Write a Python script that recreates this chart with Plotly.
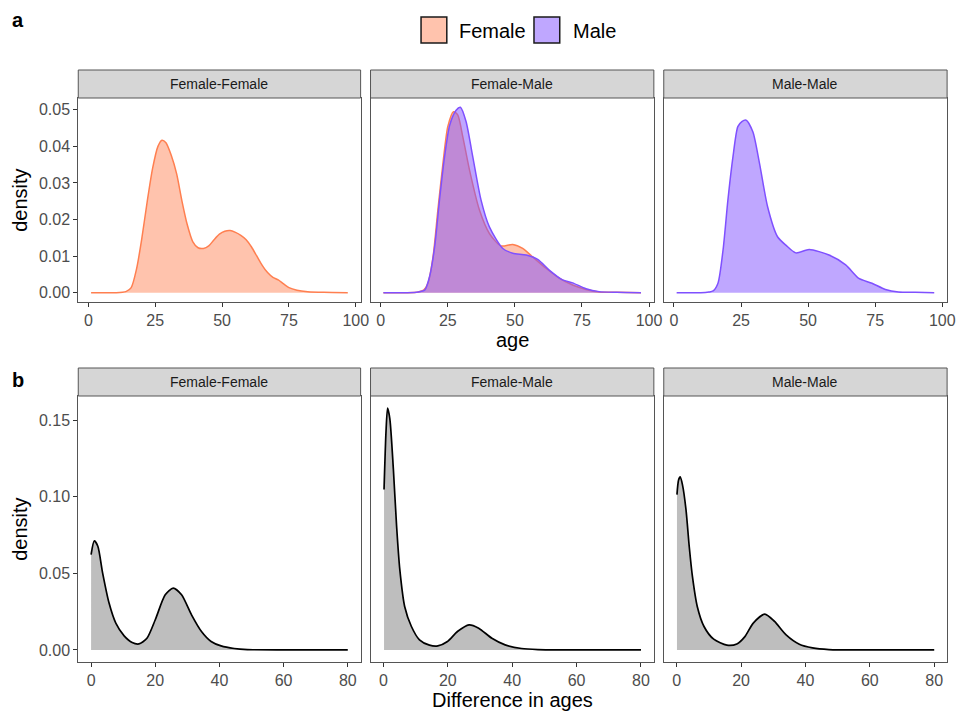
import plotly.graph_objects as go

# ---------------- data ----------------
panels = ["Female-Female", "Female-Male", "Male-Male"]
sexes = ["Female", "Male"]

# a) age densities
ff_age = [1, 10, 14, 16, 18, 20, 22, 24, 26, 27.5, 29, 31, 33, 35, 37, 39, 41, 43, 45, 47,
          49, 51, 53, 55, 57, 59, 61, 63, 65, 67, 69, 71, 73, 75, 78, 82, 88, 97]
ff_dens = [0, 0.0000, 0.0003, 0.0014, 0.0065, 0.0150, 0.0250, 0.0340, 0.0400, 0.0417, 0.0410,
           0.0375, 0.0325, 0.0250, 0.0185, 0.0140, 0.0123, 0.0121, 0.0128, 0.0145, 0.0160,
           0.0168, 0.0170, 0.0165, 0.0157, 0.0145, 0.0125, 0.0100, 0.0075, 0.0055, 0.0042,
           0.0035, 0.0024, 0.0014, 0.0007, 0.0003, 0.0001, 0]

fm_f_age = [1, 10, 14, 16, 17.6, 19.5, 21.3, 23.2, 25, 27.1, 28.7, 30.6, 33.1, 36.8, 40.5,
            44.8, 49.2, 52.9, 56.6, 61.6, 66.5, 71.5, 76.5, 81.4, 88, 97]
fm_f_dens = [0, 0.0000, 0.0002, 0.0007, 0.0026, 0.0098, 0.0226, 0.0354, 0.0454, 0.0495,
             0.0486, 0.0426, 0.0335, 0.0226, 0.0162, 0.0128, 0.0132, 0.0121, 0.0098, 0.0067,
             0.0040, 0.0021, 0.0009, 0.0002, 0.0001, 0]

fm_m_age = [1, 10, 14, 16.4, 18.2, 20.1, 21.9, 23.8, 25.7, 28.1, 29.7, 31.8, 34.3, 37.4, 40.5,
            45.5, 49.2, 54.2, 58.5, 62.8, 67.8, 71.5, 76.5, 81.4, 88, 97]
fm_m_dens = [0, 0.0000, 0.0002, 0.0007, 0.0044, 0.0126, 0.0253, 0.0372, 0.0458, 0.0499,
             0.0507, 0.0468, 0.0372, 0.0253, 0.0180, 0.0121, 0.0108, 0.0103, 0.0091, 0.0062,
             0.0035, 0.0027, 0.0011, 0.0003, 0.0001, 0]

mm_age = [1, 10, 13, 14.6, 16.4, 18.3, 20.1, 22, 23.8, 25.3, 26.9, 29.4, 31.9, 34.9, 38.6,
          41.7, 45.4, 50.4, 57.8, 64, 68.9, 73.8, 78.8, 83.7, 90, 97]
mm_dens = [0, 0.0000, 0.0002, 0.0005, 0.0026, 0.0117, 0.0253, 0.0372, 0.0454, 0.0468, 0.0472,
           0.0440, 0.0353, 0.0235, 0.0153, 0.0130, 0.0109, 0.0118, 0.0103, 0.0076, 0.0039,
           0.0026, 0.0009, 0.0002, 0.0001, 0]

# b) age-difference densities
ff_diff = [0, 1.0, 2.1, 3.6, 5.6, 7.7, 10.3, 12.8, 14.9, 17.4, 20, 23.1, 25.6, 28.2, 31.3,
           34.4, 37.4, 40.5, 44.6, 48.7, 60, 70, 80]
ff_diff_dens = [0.0622, 0.0712, 0.0677, 0.0502, 0.0306, 0.0175, 0.0092, 0.0048, 0.0039,
                0.0076, 0.0197, 0.0360, 0.0404, 0.0360, 0.0229, 0.0120, 0.0055, 0.0026,
                0.0009, 0.0002, 0.0000, 0.0000, 0.0000]

fm_diff = [0.2, 0.8, 1.3, 2.0, 3.1, 4.1, 5.1, 6.6, 8.7, 11.2, 14.3, 16.9, 19.9, 23, 26.6,
           29.6, 33.7, 37.8, 42.9, 48, 60, 70, 80]
fm_diff_dens = [0.1048, 0.1420, 0.1580, 0.1510, 0.1180, 0.0808, 0.0524, 0.0284, 0.0153,
                0.0066, 0.0031, 0.0026, 0.0055, 0.0120, 0.0164, 0.0142, 0.0076, 0.0033,
                0.0009, 0.0002, 0.0000, 0.0000, 0.0000]

mm_diff = [0.1, 0.6, 1.1, 1.8, 2.9, 3.9, 4.9, 6.4, 8.5, 11.5, 15.6, 18.7, 21.2, 23.8, 27.4,
           30.4, 34, 38.1, 42.2, 47.3, 60, 70, 80]
mm_diff_dens = [0.1015, 0.1110, 0.1130, 0.1080, 0.0917, 0.0677, 0.0480, 0.0284, 0.0153,
                0.0070, 0.0031, 0.0039, 0.0087, 0.0175, 0.0234, 0.0186, 0.0098, 0.0037,
                0.0013, 0.0002, 0.0000, 0.0000, 0.0000]

age_ticks = [0, 25, 50, 75, 100]
diff_ticks = [0, 20, 40, 60, 80]
dens_ticks_a = [0.00, 0.01, 0.02, 0.03, 0.04, 0.05]
dens_ticks_b = [0.00, 0.05, 0.10, 0.15]

# ---------------- styling / layout ----------------
W, H = 967, 712
FONT = "Liberation Sans, Arial, Helvetica, sans-serif"
LINE_COL = {"Female": "#FF7F50", "Male": "#7F50FF"}
FILL_COL = {"Female": "rgba(255,127,80,0.47)", "Male": "rgba(127,80,255,0.5)"}
GREY_FILL = "#BEBEBE"
BORDER = "#555555"
STRIP_FILL = "#D6D6D6"

cols_px = [(79, 364), (374, 660), (670, 956)]
rows_px = [(98, 302, 70), (396, 662, 368)]  # plot top, plot bottom, strip top


def fx(p):
    return p / W


def fy(p):
    return 1 - p / H


fig = go.Figure()


def add_area(ax_idx, x, y, line_col, fill_col, width=1.5):
    sfx = "" if ax_idx == 1 else str(ax_idx)
    fig.add_trace(go.Scatter(
        x=x, y=y, mode="lines", fill="tozeroy", fillcolor=fill_col,
        line=dict(color=line_col, width=width, shape="spline", smoothing=0.7),
        xaxis="x" + sfx, yaxis="y" + sfx, showlegend=False, hoverinfo="skip"))


# row a
add_area(1, ff_age, ff_dens, LINE_COL["Female"], FILL_COL["Female"])
add_area(2, fm_f_age, fm_f_dens, LINE_COL["Female"], FILL_COL["Female"])
add_area(2, fm_m_age, fm_m_dens, LINE_COL["Male"], FILL_COL["Male"])
add_area(3, mm_age, mm_dens, LINE_COL["Male"], FILL_COL["Male"])
# row b
add_area(4, ff_diff, ff_diff_dens, "#000000", GREY_FILL, 1.7)
add_area(5, fm_diff, fm_diff_dens, "#000000", GREY_FILL, 1.7)
add_area(6, mm_diff, mm_diff_dens, "#000000", GREY_FILL, 1.7)

tickfont = dict(family=FONT, size=16, color="#4D4D4D")
layout = dict(width=W, height=H, margin=dict(l=0, r=0, t=0, b=0), autosize=False,
              paper_bgcolor="white", plot_bgcolor="white", showlegend=False)

age_max = max(ff_age + fm_f_age + fm_m_age + mm_age)
age_min = min(ff_age + fm_f_age + fm_m_age + mm_age)
age_pad = 0.05 * (age_max - age_min)
diff_max = max(ff_diff + fm_diff + mm_diff)
diff_pad = 0.05 * diff_max
a_max = max(ff_dens + fm_f_dens + fm_m_dens + mm_dens)
b_max = max(ff_diff_dens + fm_diff_dens + mm_diff_dens)

shapes = []
annotations = []
for r, (ptop, pbot, stop) in enumerate(rows_px):
    for c, (pl, pr) in enumerate(cols_px):
        idx = r * 3 + c + 1
        sfx = "" if idx == 1 else str(idx)
        if r == 0:
            xr = [age_min - age_pad, age_max + age_pad]
            xt = age_ticks
            yr = [-0.05 * a_max, a_max * 1.05]
            yt = dens_ticks_a
        else:
            xr = [-diff_pad, diff_max + diff_pad]
            xt = diff_ticks
            yr = [-0.05 * b_max, b_max * 1.05]
            yt = dens_ticks_b
        common = dict(showline=True, linecolor=BORDER, linewidth=1, mirror=True,
                      showgrid=False, zeroline=False, ticks="outside", ticklen=4,
                      tickwidth=1, tickcolor="#333333", tickfont=tickfont, fixedrange=True)
        layout["xaxis" + sfx] = dict(common, domain=[fx(pl), fx(pr)], range=xr,
                                     tickvals=xt, ticktext=[str(v) for v in xt],
                                     anchor="y" + sfx)
        ydict = dict(common, domain=[fy(pbot), fy(ptop)], range=yr, tickvals=yt,
                     ticktext=["%.2f" % v for v in yt], anchor="x" + sfx)
        if c > 0:
            ydict.update(showticklabels=False, ticks="")
        layout["yaxis" + sfx] = ydict
        # strip
        shapes.append(dict(type="rect", xref="paper", yref="paper",
                           x0=fx(pl), x1=fx(pr), y0=fy(ptop), y1=fy(stop),
                           fillcolor=STRIP_FILL, line=dict(color=BORDER, width=1)))
        annotations.append(dict(xref="paper", yref="paper", x=fx((pl + pr) / 2),
                                y=fy((ptop + stop) / 2), text=panels[c], showarrow=False,
                                xanchor="center", yanchor="middle",
                                font=dict(family=FONT, size=14, color="#1A1A1A")))
    # y title
    annotations.append(dict(xref="paper", yref="paper", x=fx(20), y=fy((ptop + pbot) / 2),
                            text="density", textangle=-90, showarrow=False,
                            xanchor="center", yanchor="middle",
                            font=dict(family=FONT, size=20, color="#000000")))

# x titles
annotations.append(dict(xref="paper", yref="paper", x=fx(517.5), y=fy(340), text="age",
                        showarrow=False, xanchor="center", yanchor="middle",
                        font=dict(family=FONT, size=20, color="#000000")))
annotations.append(dict(xref="paper", yref="paper", x=fx(517.5), y=fy(700),
                        text="Difference in ages", showarrow=False, xanchor="center",
                        yanchor="middle", font=dict(family=FONT, size=20, color="#000000")))
# panel tags
for tag, py in [("a", 20), ("b", 380)]:
    annotations.append(dict(xref="paper", yref="paper", x=fx(10), y=fy(py), text="<b>%s</b>" % tag,
                            showarrow=False, xanchor="left", yanchor="middle",
                            font=dict(family=FONT, size=20, color="#000000")))

# legend (manual, top centre)
legend_px = [(425, 451, 461), (539, 565, 576)]
for s, (b0, b1, tx) in zip(sexes, legend_px):
    shapes.append(dict(type="rect", xref="paper", yref="paper", x0=fx(b0), x1=fx(b1),
                       y0=fy(43), y1=fy(17), fillcolor=FILL_COL[s],
                       line=dict(color="#1A1A1A", width=1.5)))
    annotations.append(dict(xref="paper", yref="paper", x=fx(tx), y=fy(31), text=s,
                            showarrow=False, xanchor="left", yanchor="middle",
                            font=dict(family=FONT, size=20, color="#000000")))

layout["shapes"] = shapes
layout["annotations"] = annotations
fig.update_layout(**layout)
fig.write_html(
    "out.html",
    config={"responsive": False, "displayModeBar": False},
    post_script="document.body.style.margin='0';document.body.style.overflow='hidden';"
                "document.documentElement.style.overflow='hidden';",
)
